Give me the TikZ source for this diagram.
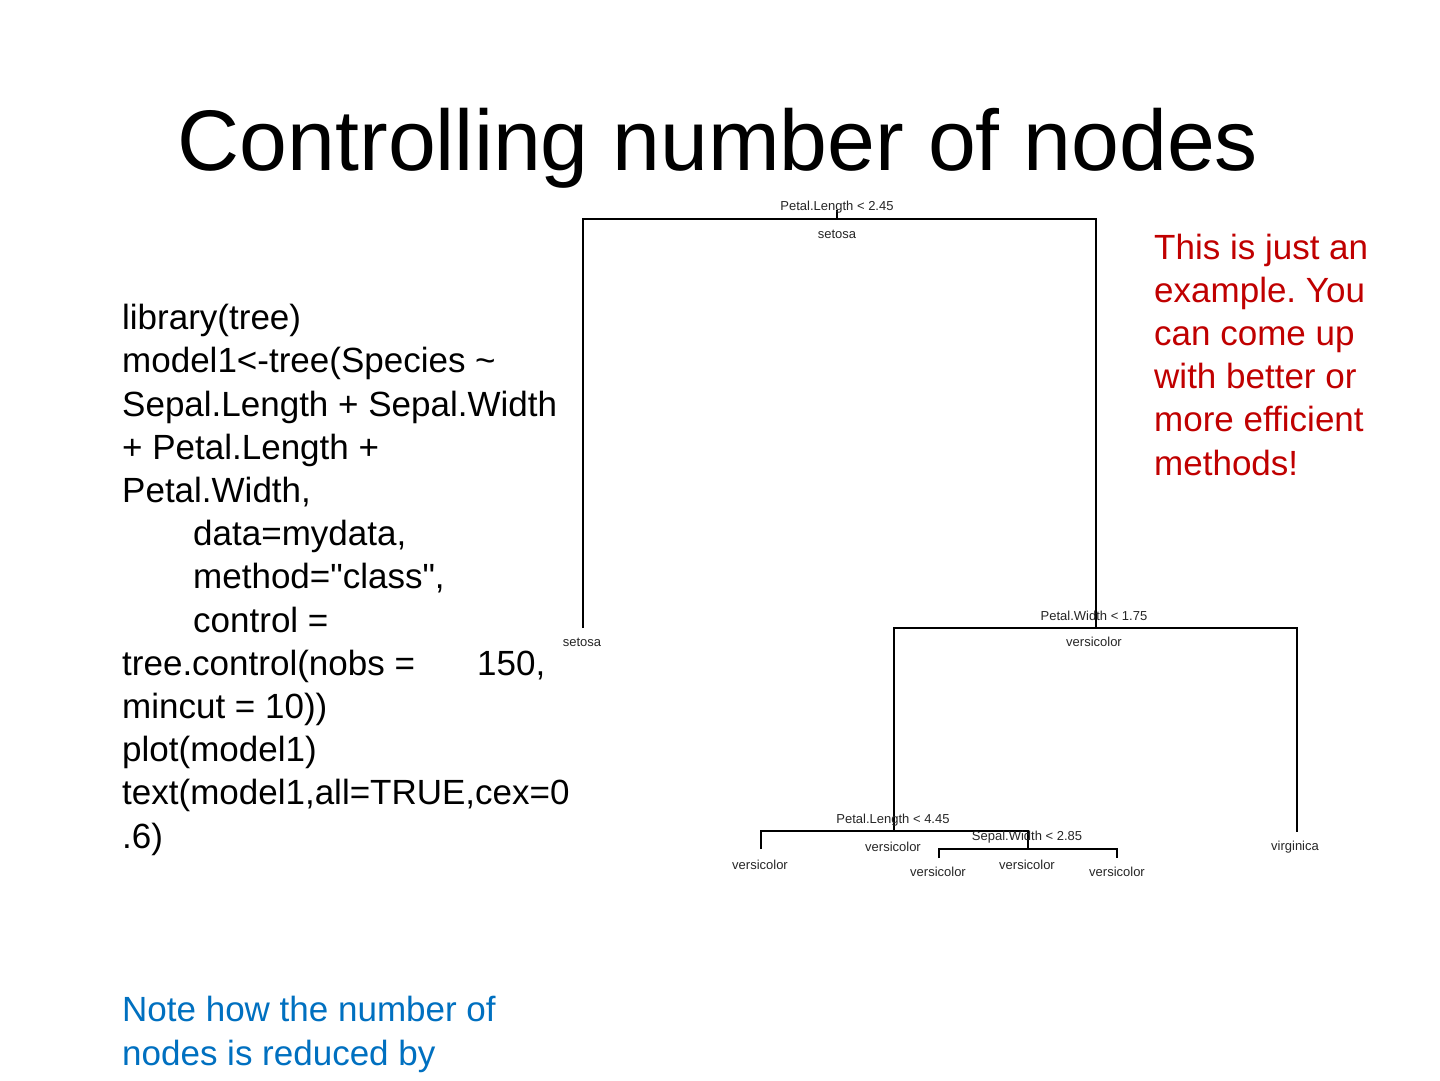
\documentclass[tikz,border=0pt]{standalone}
\usepackage{fontspec}
\setmainfont{Liberation Sans}[Ligatures=TeXOff]
\frenchspacing
\definecolor{notered}{RGB}{192,0,0}
\definecolor{noteblue}{RGB}{0,112,192}
\tikzset{
  edge/.style={draw=black, line width=1.3pt},
  lab/.style={inner sep=0pt, anchor=base, font=\fontsize{13}{14}\selectfont, text=black!85},
  body/.style={inner sep=0pt, anchor=base west, align=left, font=\fontsize{35}{43.2}\selectfont}
}
\begin{document}
\begin{tikzpicture}[x=1pt,y=-1pt]
\useasboundingbox (0,0) rectangle (1440,1080);
\fill[white] (0,0) rectangle (1440,1080);
% title
\node[inner sep=0pt, anchor=base, font=\fontsize{86}{96}\selectfont] (title) at (718,170) {Controlling number of nodes};
% code (anchor = baseline of last line)
\node[body] (code) at (122,848) {library(tree)\\
model1<-tree(Species \textasciitilde\\
Sepal.Length + Sepal.Width\\
+ Petal.Length +\\
Petal.Width,\\
\hspace*{71pt}data=mydata,\\
\hspace*{71pt}method="class",\\
\hspace*{71pt}control =\\
\makebox[355pt][l]{tree.control(nobs =}150,\\
mincut = 10))\\
plot(model1)\\
text(model1,all=TRUE,cex=0\\
.6)};
% red note
\node[body, text=notered] (note) at (1154,475) {This is just an\\
example. You\\
can come up\\
with better or\\
more efficient\\
methods!};
% blue note
\node[body, text=noteblue] (blue) at (122,1065) {Note how the number of\\
nodes is reduced by};
% tree coordinates
\coordinate (r) at (837,219);
\coordinate (rtop) at (837,210);
\coordinate (rl) at (583,219);
\coordinate (rr) at (1096,219);
\coordinate (l1) at (583,628);
\coordinate (n2) at (1096,628);
\coordinate (n2l) at (894,628);
\coordinate (n2r) at (1297,628);
\coordinate (n3) at (894,831);
\coordinate (n3l) at (761,831);
\coordinate (n3r) at (1028,831);
\coordinate (l3) at (761,849);
\coordinate (n4) at (1028,849);
\coordinate (n4l) at (939,849);
\coordinate (n4r) at (1117,849);
\coordinate (l4a) at (939,858);
\coordinate (l4b) at (1117,858);
\coordinate (l5) at (1297,832);
% edges
\draw[edge] (rtop) -- (r);
\draw[edge] (l1) -- (rl) -- (rr) -- (n2);
\draw[edge] (n3) -- (n2l) -- (n2r) -- (l5);
\draw[edge] (l3) -- (n3l) -- (n3r) -- (n4);
\draw[edge] (l4a) -- (n4l) -- (n4r) -- (l4b);
% labels
\node[lab] (t1) at (837,210) {Petal.Length < 2.45};
\node[lab] (t1b) at (837,238) {setosa};
\node[lab] (t2) at (582,646) {setosa};
\node[lab] (t3) at (1094,620) {Petal.Width < 1.75};
\node[lab] (t3b) at (1094,646) {versicolor};
\node[lab] (t4) at (893,823) {Petal.Length < 4.45};
\node[lab] (t4b) at (893,851) {versicolor};
\node[lab] (t5) at (760,869) {versicolor};
\node[lab] (t6) at (1027,840) {Sepal.Width < 2.85};
\node[lab] (t6b) at (1027,869) {versicolor};
\node[lab] (t7) at (938,876) {versicolor};
\node[lab] (t8) at (1117,876) {versicolor};
\node[lab] (t9) at (1295,850) {virginica};
\end{tikzpicture}
\end{document}
